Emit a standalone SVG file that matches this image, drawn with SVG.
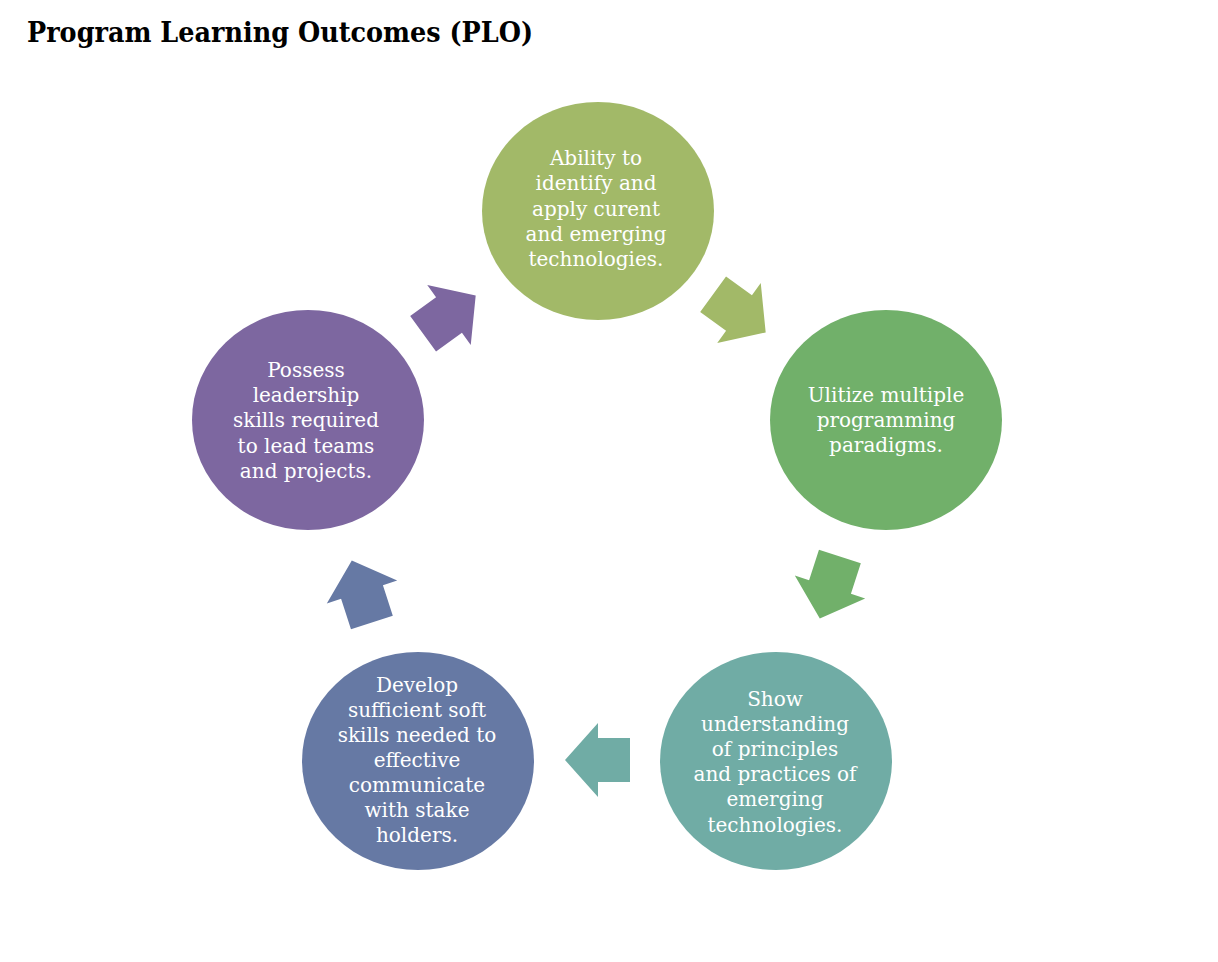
<svg xmlns="http://www.w3.org/2000/svg" width="1218" height="962" viewBox="0 0 1218 962">
  <style>
    .title { font-family: "DejaVu Serif", "Liberation Serif", serif; font-weight: bold; font-size: 27px; fill: #000; }
    .lbl { font-family: "DejaVu Serif", "Liberation Serif", serif; font-size: 20px; fill: #fff; text-anchor: middle; }
  </style>
  <defs>
    <!-- block arrow pointing right, centred on the origin -->
    <path id="blockArrow" d="M -32,-22 L 0,-22 L 0,-37 L 33,0 L 0,37 L 0,22 L -32,22 Z"/>
  </defs>
  <rect width="1218" height="962" fill="#fff"/>
  <text class="title" x="27" y="42" textLength="506" lengthAdjust="spacingAndGlyphs">Program Learning Outcomes (PLO)</text>

  <g id="connectors">
    <use href="#blockArrow" fill="#A2B968" transform="translate(739,313) rotate(36)"/>
    <use href="#blockArrow" fill="#71B06A" transform="translate(830,587) rotate(108)"/>
    <use href="#blockArrow" fill="#70ACA5" transform="translate(598,760) rotate(180)"/>
    <use href="#blockArrow" fill="#6679A4" transform="translate(362,592) rotate(252)"/>
    <use href="#blockArrow" fill="#7D67A0" transform="translate(449,315) rotate(324)"/>
  </g>

  <g id="plo1">
    <ellipse cx="598" cy="211" rx="116" ry="109" fill="#A2B968"/>
    <text class="lbl" x="596" y="165">Ability to</text>
    <text class="lbl" x="596" y="190">identify and</text>
    <text class="lbl" x="596" y="216">apply curent</text>
    <text class="lbl" x="596" y="241">and emerging</text>
    <text class="lbl" x="596" y="266">technologies.</text>
  </g>

  <g id="plo2">
    <ellipse cx="886" cy="420" rx="116" ry="110" fill="#71B06A"/>
    <text class="lbl" x="886" y="402">Ulitize multiple</text>
    <text class="lbl" x="886" y="427">programming</text>
    <text class="lbl" x="886" y="452">paradigms.</text>
  </g>

  <g id="plo3">
    <ellipse cx="776" cy="761" rx="116" ry="109" fill="#70ACA5"/>
    <text class="lbl" x="775" y="706">Show</text>
    <text class="lbl" x="775" y="731">understanding</text>
    <text class="lbl" x="775" y="756">of principles</text>
    <text class="lbl" x="775" y="781">and practices of</text>
    <text class="lbl" x="775" y="806">emerging</text>
    <text class="lbl" x="775" y="832">technologies.</text>
  </g>

  <g id="plo4">
    <ellipse cx="418" cy="761" rx="116" ry="109" fill="#6679A4"/>
    <text class="lbl" x="417" y="692">Develop</text>
    <text class="lbl" x="417" y="717">sufficient soft</text>
    <text class="lbl" x="417" y="742">skills needed to</text>
    <text class="lbl" x="417" y="767">effective</text>
    <text class="lbl" x="417" y="792">communicate</text>
    <text class="lbl" x="417" y="817">with stake</text>
    <text class="lbl" x="417" y="842">holders.</text>
  </g>

  <g id="plo5">
    <ellipse cx="308" cy="420" rx="116" ry="110" fill="#7D67A0"/>
    <text class="lbl" x="306" y="377">Possess</text>
    <text class="lbl" x="306" y="402">leadership</text>
    <text class="lbl" x="306" y="427">skills required</text>
    <text class="lbl" x="306" y="453">to lead teams</text>
    <text class="lbl" x="306" y="478">and projects.</text>
  </g>
</svg>
